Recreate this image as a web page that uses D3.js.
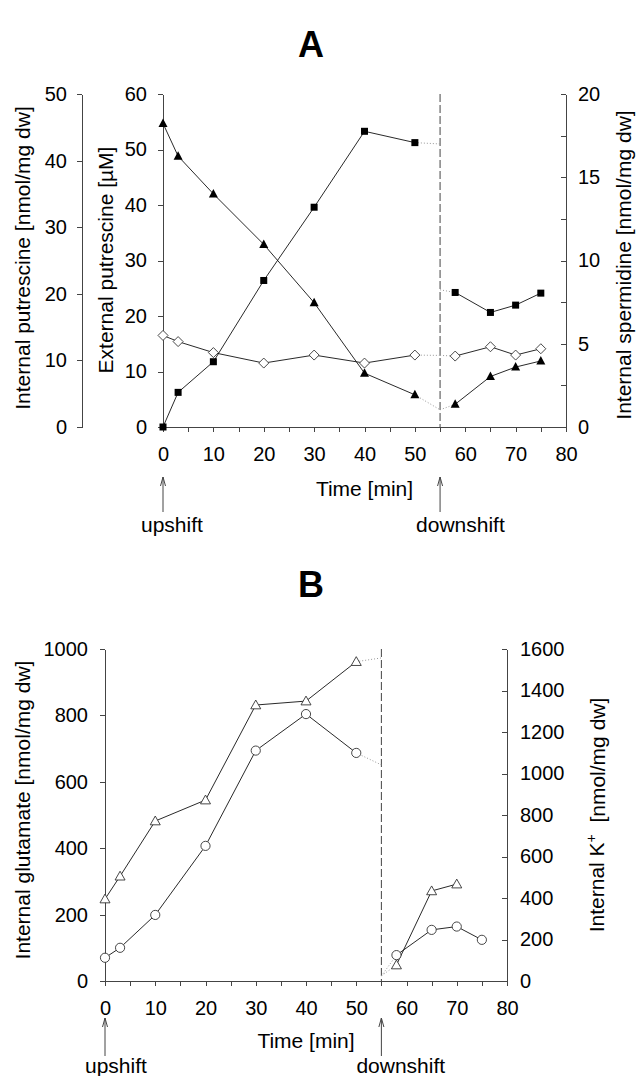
<!DOCTYPE html>
<html>
<head>
<meta charset="utf-8">
<script src="https://cdn.jsdelivr.net/npm/d3@7"></script>
<style>
  body { margin: 0; background: #fff; }
  svg { font-family: "Liberation Sans", Arial, sans-serif; }
  .axis path, .axis line { stroke: #444; stroke-width: 1; shape-rendering: crispEdges; }
  .axis text { font-size: 20px; fill: #000; font-family: "Liberation Sans", Arial, sans-serif; }
  .series { fill: none; stroke: #111; stroke-width: 0.9; }
  .gap { fill: none; stroke: #999; stroke-width: 1; stroke-dasharray: 1,2; }
  .title { font-size: 21px; fill: #000; }
</style>
</head>
<body>
<div id="chart-container"></div>
<script>
// ---- Panel A data ----
const timeUp = [0, 3, 10, 20, 30, 40, 50];
const timeDown = [58, 65, 70, 75];
const shiftTime = 55;

// internal putrescine (filled squares, left axis)
const intPutUp = [0, 5.2, 9.8, 22.0, 33.0, 44.4, 42.7];
const intPutDown = [20.2, 17.2, 18.3, 20.1];
const intPutGap = [42.5, 20.6];
// external putrescine (filled triangles, middle axis)
const extPutUp = [54.7, 48.8, 42.0, 32.9, 22.4, 9.7, 5.8];
const extPutDown = [4.1, 9.1, 10.8, 11.9];
const extPutGap = [3.1, 3.1];
// internal spermidine (open diamonds, right axis)
const spdUp = [5.5, 5.13, 4.47, 3.84, 4.32, 3.84, 4.32];
const spdDown = [4.26, 4.82, 4.32, 4.7];
const spdGap = [4.3, 4.3];

// ---- Panel B data ----
const timeDownK = [58, 65, 70];
// glutamate (open circles, left axis)
const gluUp = [70, 100, 199, 407, 694, 804, 687];
const gluDown = [78, 154, 164, 124];
const gluGap = [651, 15];
// potassium (open triangles, right axis)
const kUp = [395, 505, 771, 872, 1330, 1349, 1539];
const kDown = [77, 434, 467];
const kGap = [1557, 25];

// ---- tick labels ----
const timeTicks = [0, 10, 20, 30, 40, 50, 60, 70, 80];
const intPutTicks = [0, 10, 20, 30, 40, 50];
const extPutTicks = [0, 10, 20, 30, 40, 50, 60];
const spdTicks = [0, 5, 10, 15, 20];
const gluTicks = [0, 200, 400, 600, 800, 1000];
const kTicks = [0, 200, 400, 600, 800, 1000, 1200, 1400, 1600];

const svg = d3.select("#chart-container").append("svg")
  .attr("width", 639).attr("height", 1076);

// Scales
const xA = d3.scaleLinear().domain([0, 80]).range([163, 566]);
const yInt = d3.scaleLinear().domain([0, 50]).range([427, 94]);
const yExt = d3.scaleLinear().domain([0, 60]).range([427, 94]);
const ySpd = d3.scaleLinear().domain([0, 20]).range([427, 94]);

const xB = d3.scaleLinear().domain([0, 80]).range([105, 507]);
const yGlu = d3.scaleLinear().domain([0, 1000]).range([981, 649]);
const yK = d3.scaleLinear().domain([0, 1600]).range([981, 649]);

const plain = d => String(d);

function addAxis(axis, tx, ty) {
  return svg.append("g").attr("class", "axis")
    .attr("transform", `translate(${tx},${ty})`).call(axis);
}

// time axis with minor ticks every 5 min
function timeAxis(x) {
  const vals = d3.range(0, 81, 5);
  return d3.axisBottom(x).tickValues(vals).tickSize(5).tickSizeOuter(0).tickPadding(15)
    .tickFormat(d => timeTicks.includes(d) ? d : "");
}

// ---- Panel A axes ----
addAxis(timeAxis(xA), 0, 427);
addAxis(d3.axisLeft(yInt).tickValues(intPutTicks).tickSize(5).tickSizeOuter(0).tickPadding(10).tickFormat(plain), 82, 0);
addAxis(d3.axisLeft(yExt).tickValues(extPutTicks).tickSize(5).tickSizeOuter(0).tickPadding(11).tickFormat(plain), 163, 0);
addAxis(d3.axisRight(ySpd).tickValues(d3.range(0, 20.1, 2.5)).tickSize(-5).tickSizeOuter(0).tickPadding(12)
  .tickFormat(d => spdTicks.includes(d) ? d : ""), 566, 0);

// ---- Panel B axes ----
addAxis(timeAxis(xB), 0, 981);
addAxis(d3.axisLeft(yGlu).tickValues(gluTicks).tickSize(5).tickSizeOuter(0).tickPadding(12).tickFormat(plain), 105, 0);
addAxis(d3.axisRight(yK).tickValues(kTicks).tickSize(-5).tickSizeOuter(0).tickPadding(13).tickFormat(plain), 507, 0);

// Dashed downshift lines
function shiftLine(x, y) {
  svg.append("line")
    .attr("x1", x(shiftTime)).attr("x2", x(shiftTime))
    .attr("y1", y.range()[1]).attr("y2", y.range()[0])
    .attr("stroke", "#444").attr("stroke-width", 1)
    .attr("stroke-dasharray", "8,3");
}
shiftLine(xA, yExt);
shiftLine(xB, yGlu);

// Marker shapes
const markers = {
  sqFilled: g => g.append("rect").attr("x", -3.5).attr("y", -3.5).attr("width", 7).attr("height", 7)
    .attr("fill", "#000"),
  triFilled: g => g.append("path").attr("d", "M0,-5L4.5,3.5L-4.5,3.5Z").attr("fill", "#000"),
  diamond: g => g.append("path").attr("d", "M0,-5L5,0L0,5L-5,0Z")
    .attr("fill", "#fff").attr("stroke", "#333").attr("stroke-width", 0.9),
  circle: g => g.append("circle").attr("r", 4.6)
    .attr("fill", "#fff").attr("stroke", "#333").attr("stroke-width", 0.9),
  triOpen: g => g.append("path").attr("d", "M0,-5L5,3.8L-5,3.8Z")
    .attr("fill", "#fff").attr("stroke", "#333").attr("stroke-width", 0.9)
};

function drawSeries(x, y, tUp, up, tDown, down, gap, marker) {
  const line = d3.line().x(d => x(d[0])).y(d => y(d[1]));
  const ptsUp = tUp.map((t, i) => [t, up[i]]);
  const ptsDown = tDown.map((t, i) => [t, down[i]]);
  const g = svg.append("g");
  // dotted bridges over the shift
  g.append("path").attr("class", "gap")
    .attr("d", line([ptsUp[ptsUp.length - 1], [shiftTime, gap[0]]]));
  g.append("path").attr("class", "gap")
    .attr("d", line([[shiftTime, gap[1]], ptsDown[0]]));
  g.append("path").attr("class", "series").attr("d", line(ptsUp));
  g.append("path").attr("class", "series").attr("d", line(ptsDown));
  return ptsUp.concat(ptsDown).map(d => [x(d[0]), y(d[1])]);
}

const seriesList = [
  [xA, ySpd, timeUp, spdUp, timeDown, spdDown, spdGap, "diamond"],
  [xA, yExt, timeUp, extPutUp, timeDown, extPutDown, extPutGap, "triFilled"],
  [xA, yInt, timeUp, intPutUp, timeDown, intPutDown, intPutGap, "sqFilled"],
  [xB, yGlu, timeUp, gluUp, timeDown, gluDown, gluGap, "circle"],
  [xB, yK, timeUp, kUp, timeDownK, kDown, kGap, "triOpen"]
];
const markerPts = seriesList.map(s => ({ pts: drawSeries(...s.slice(0, 7)), marker: s[7] }));
markerPts.forEach(s => {
  s.pts.forEach(p => {
    const g = svg.append("g").attr("transform", `translate(${p[0]},${p[1]})`);
    markers[s.marker](g);
  });
});

// Panel letters
svg.append("text").text("A").attr("x", 311).attr("y", 57)
  .attr("text-anchor", "middle").attr("font-size", 36).attr("font-weight", "bold");
svg.append("text").text("B").attr("x", 311).attr("y", 597)
  .attr("text-anchor", "middle").attr("font-size", 36).attr("font-weight", "bold");

// Axis titles
function vTitle(str, x, y) {
  return svg.append("text").attr("class", "title")
    .attr("transform", `translate(${x},${y}) rotate(-90)`)
    .attr("text-anchor", "middle").attr("dy", "0.35em").text(str);
}
vTitle("Internal putrescine [nmol/mg dw]", 23, 258);
vTitle("External putrescine [µM]", 106, 260);
vTitle("Internal spermidine [nmol/mg dw]", 624, 265);
vTitle("Internal glutamate [nmol/mg dw]", 23, 810);
const kTitle = svg.append("text").attr("class", "title")
  .attr("transform", "translate(597,815) rotate(-90)")
  .attr("text-anchor", "middle").attr("dy", "0.35em");
kTitle.append("tspan").text("Internal K");
kTitle.append("tspan").text("+").attr("font-size", 14).attr("dy", "-0.6em");
kTitle.append("tspan").text("\u00a0 [nmol/mg dw]").attr("dy", "0.42em");

svg.append("text").attr("class", "title").text("Time [min]")
  .attr("x", xA(40)).attr("y", 496).attr("text-anchor", "middle");
svg.append("text").attr("class", "title").text("Time [min]")
  .attr("x", xB(40)).attr("y", 1048).attr("text-anchor", "middle");

// Up/down shift arrows
function arrow(x, y1, y2, label, labelX, labelY) {
  svg.append("line").attr("x1", x).attr("x2", x).attr("y1", y1).attr("y2", y2)
    .attr("stroke", "#444").attr("stroke-width", 1);
  svg.append("path").attr("d", `M${x - 2.5},${y1 + 9}L${x},${y1}L${x + 2.5},${y1 + 9}`)
    .attr("fill", "none").attr("stroke", "#444").attr("stroke-width", 1);
  svg.append("text").attr("class", "title").attr("font-size", 20).text(label)
    .attr("x", labelX).attr("y", labelY);
}
arrow(xA(0), 477, 512, "upshift", xA(0) - 22, 532);
arrow(xA(shiftTime), 477, 512, "downshift", xA(shiftTime) - 24, 532);
arrow(xB(0), 1018, 1056, "upshift", xB(0) - 20, 1073);
arrow(xB(shiftTime), 1018, 1056, "downshift", xB(shiftTime) - 25, 1073);
</script>
</body>
</html>
